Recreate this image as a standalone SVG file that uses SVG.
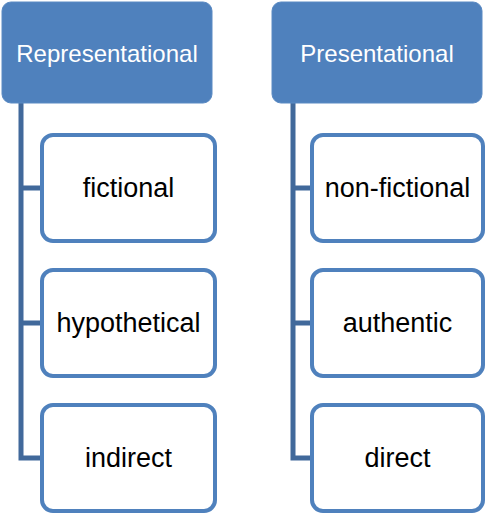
<svg xmlns="http://www.w3.org/2000/svg" width="486" height="516" viewBox="0 0 486 516">
<style>
.hdr{fill:#4f81bd;stroke:#5a8ac3;stroke-width:1}
.hdr-t{font-family:"Liberation Sans",Arial,sans-serif;font-size:24px;fill:#ffffff;text-anchor:middle}
.box{fill:#ffffff;stroke:#4f81bd;stroke-width:4}
.box-t{font-family:"Liberation Sans",Arial,sans-serif;font-size:27px;fill:#000000;text-anchor:middle}
.conn{fill:none;stroke:#41699b;stroke-width:5}
</style>
<rect width="486" height="516" fill="#ffffff"/>
<g id="connectors">
<path class="conn" d="M21 103 V458 H42 M21 188 H42 M21 323 H42"/>
<path class="conn" d="M293 103 V458 H312 M293 188 H312 M293 323 H312"/>
</g>
<g id="representational">
<rect class="hdr" x="2" y="2" width="210" height="101" rx="9"/>
<text class="hdr-t" x="107" y="62">Representational</text>
</g>
<g id="presentational">
<rect class="hdr" x="272" y="2" width="210" height="101" rx="9"/>
<text class="hdr-t" x="377" y="62">Presentational</text>
</g>
<g id="fictional">
<rect class="box" x="42" y="135" width="173" height="106" rx="11"/>
<text class="box-t" x="128.5" y="197">fictional</text>
</g>
<g id="hypothetical">
<rect class="box" x="42" y="270" width="173" height="106" rx="11"/>
<text class="box-t" x="128.5" y="332">hypothetical</text>
</g>
<g id="indirect">
<rect class="box" x="42" y="405" width="173" height="106" rx="11"/>
<text class="box-t" x="128.5" y="467">indirect</text>
</g>
<g id="non-fictional">
<rect class="box" x="312" y="135" width="171" height="106" rx="11"/>
<text class="box-t" x="397.5" y="197">non-fictional</text>
</g>
<g id="authentic">
<rect class="box" x="312" y="270" width="171" height="106" rx="11"/>
<text class="box-t" x="397.5" y="332">authentic</text>
</g>
<g id="direct">
<rect class="box" x="312" y="405" width="171" height="106" rx="11"/>
<text class="box-t" x="397.5" y="467">direct</text>
</g>
</svg>
